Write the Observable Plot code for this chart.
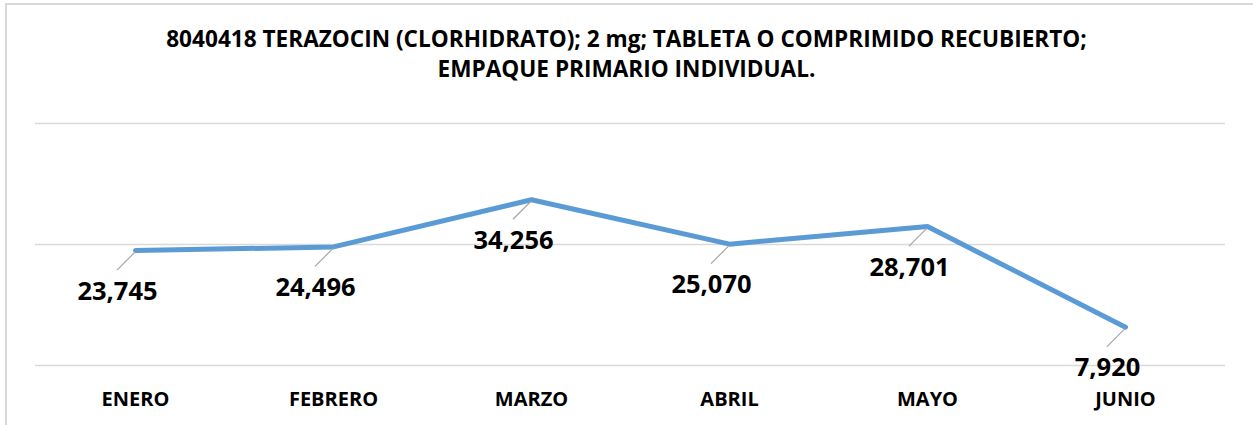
<!DOCTYPE html>
<html><head><meta charset="utf-8">
<script src="https://cdn.jsdelivr.net/npm/d3@7"></script>
<script src="https://cdn.jsdelivr.net/npm/@observablehq/plot@0.6"></script>
<style>
html,body{margin:0;padding:0;background:#fff;overflow:hidden;}
#wrap{position:relative;width:1253px;height:425px;overflow:hidden;}
#frame{position:absolute;left:5px;top:3px;width:1400px;height:500px;border-left:2px solid #d9d9d9;border-top:2px solid #d9d9d9;pointer-events:none;}
#title{position:relative;height:95px;box-sizing:border-box;padding-top:24px;text-align:center;font-family:"Open Sans",Lato,sans-serif;font-weight:bold;font-size:22.6px;line-height:30px;color:#000;white-space:nowrap;}
#chart{position:relative;}
</style></head><body>
<div id="wrap">
  <div id="frame"></div>
  <div id="title"></div>
  <div id="chart"></div>
</div>
<script>
const titleLines = [
  "8040418 TERAZOCIN (CLORHIDRATO); 2 mg; TABLETA O COMPRIMIDO RECUBIERTO;",
  "EMPAQUE PRIMARIO INDIVIDUAL."
];
const months = ["ENERO", "FEBRERO", "MARZO", "ABRIL", "MAYO", "JUNIO"];
const values = [23745, 24496, 34256, 25070, 28701, 7920];
const yTicks = [0, 25000, 50000];

const data = months.map((m, i) => ({month: m, value: values[i]}));

document.getElementById("title").innerHTML = titleLines.map(t => `<div>${t}</div>`).join("");

const leaderDX = -18, leaderDY1 = 2, leaderDY2 = 20;
const leaders = (index, scales) => {
  const g = d3.create("svg:g");
  if (!scales || !scales.x || !scales.y) return g.node();
  for (const d of data) {
    const px = scales.x(d.month), py = scales.y(d.value);
    g.append("line")
      .attr("x1", px).attr("y1", py + leaderDY1)
      .attr("x2", px + leaderDX).attr("y2", py + leaderDY2)
      .attr("stroke", "#a6a6a6").attr("stroke-width", 1.2);
  }
  return g.node();
};

const chart = Plot.plot({
  width: 1253,
  height: 330,
  marginTop: 28,
  marginBottom: 60,
  marginLeft: 35,
  marginRight: 28,
  style: {fontFamily: "'Open Sans', Lato, sans-serif", background: "transparent", color: "#000"},
  x: {type: "point", domain: months, padding: 0.5, label: null},
  y: {domain: [0, 50000], axis: null},
  marks: [
    Plot.gridY(yTicks, {stroke: "#d9d9d9", strokeOpacity: 1, strokeWidth: 1.6}),
    Plot.axisX({tickSize: 0, tickPadding: 26, fontSize: 20, fontWeight: "bold", label: null}),
    Plot.line(data, {x: "month", y: "value", stroke: "#5b9bd5", strokeWidth: 5, strokeLinejoin: "miter"}),
    leaders,
    Plot.text(data, {x: "month", y: "value", text: d => d3.format(",")(d.value), dx: -18, dy: 41, fontSize: 25.5, fontWeight: "bold", fill: "#000"})
  ]
});
document.getElementById("chart").appendChild(chart);
</script>
</body></html>
